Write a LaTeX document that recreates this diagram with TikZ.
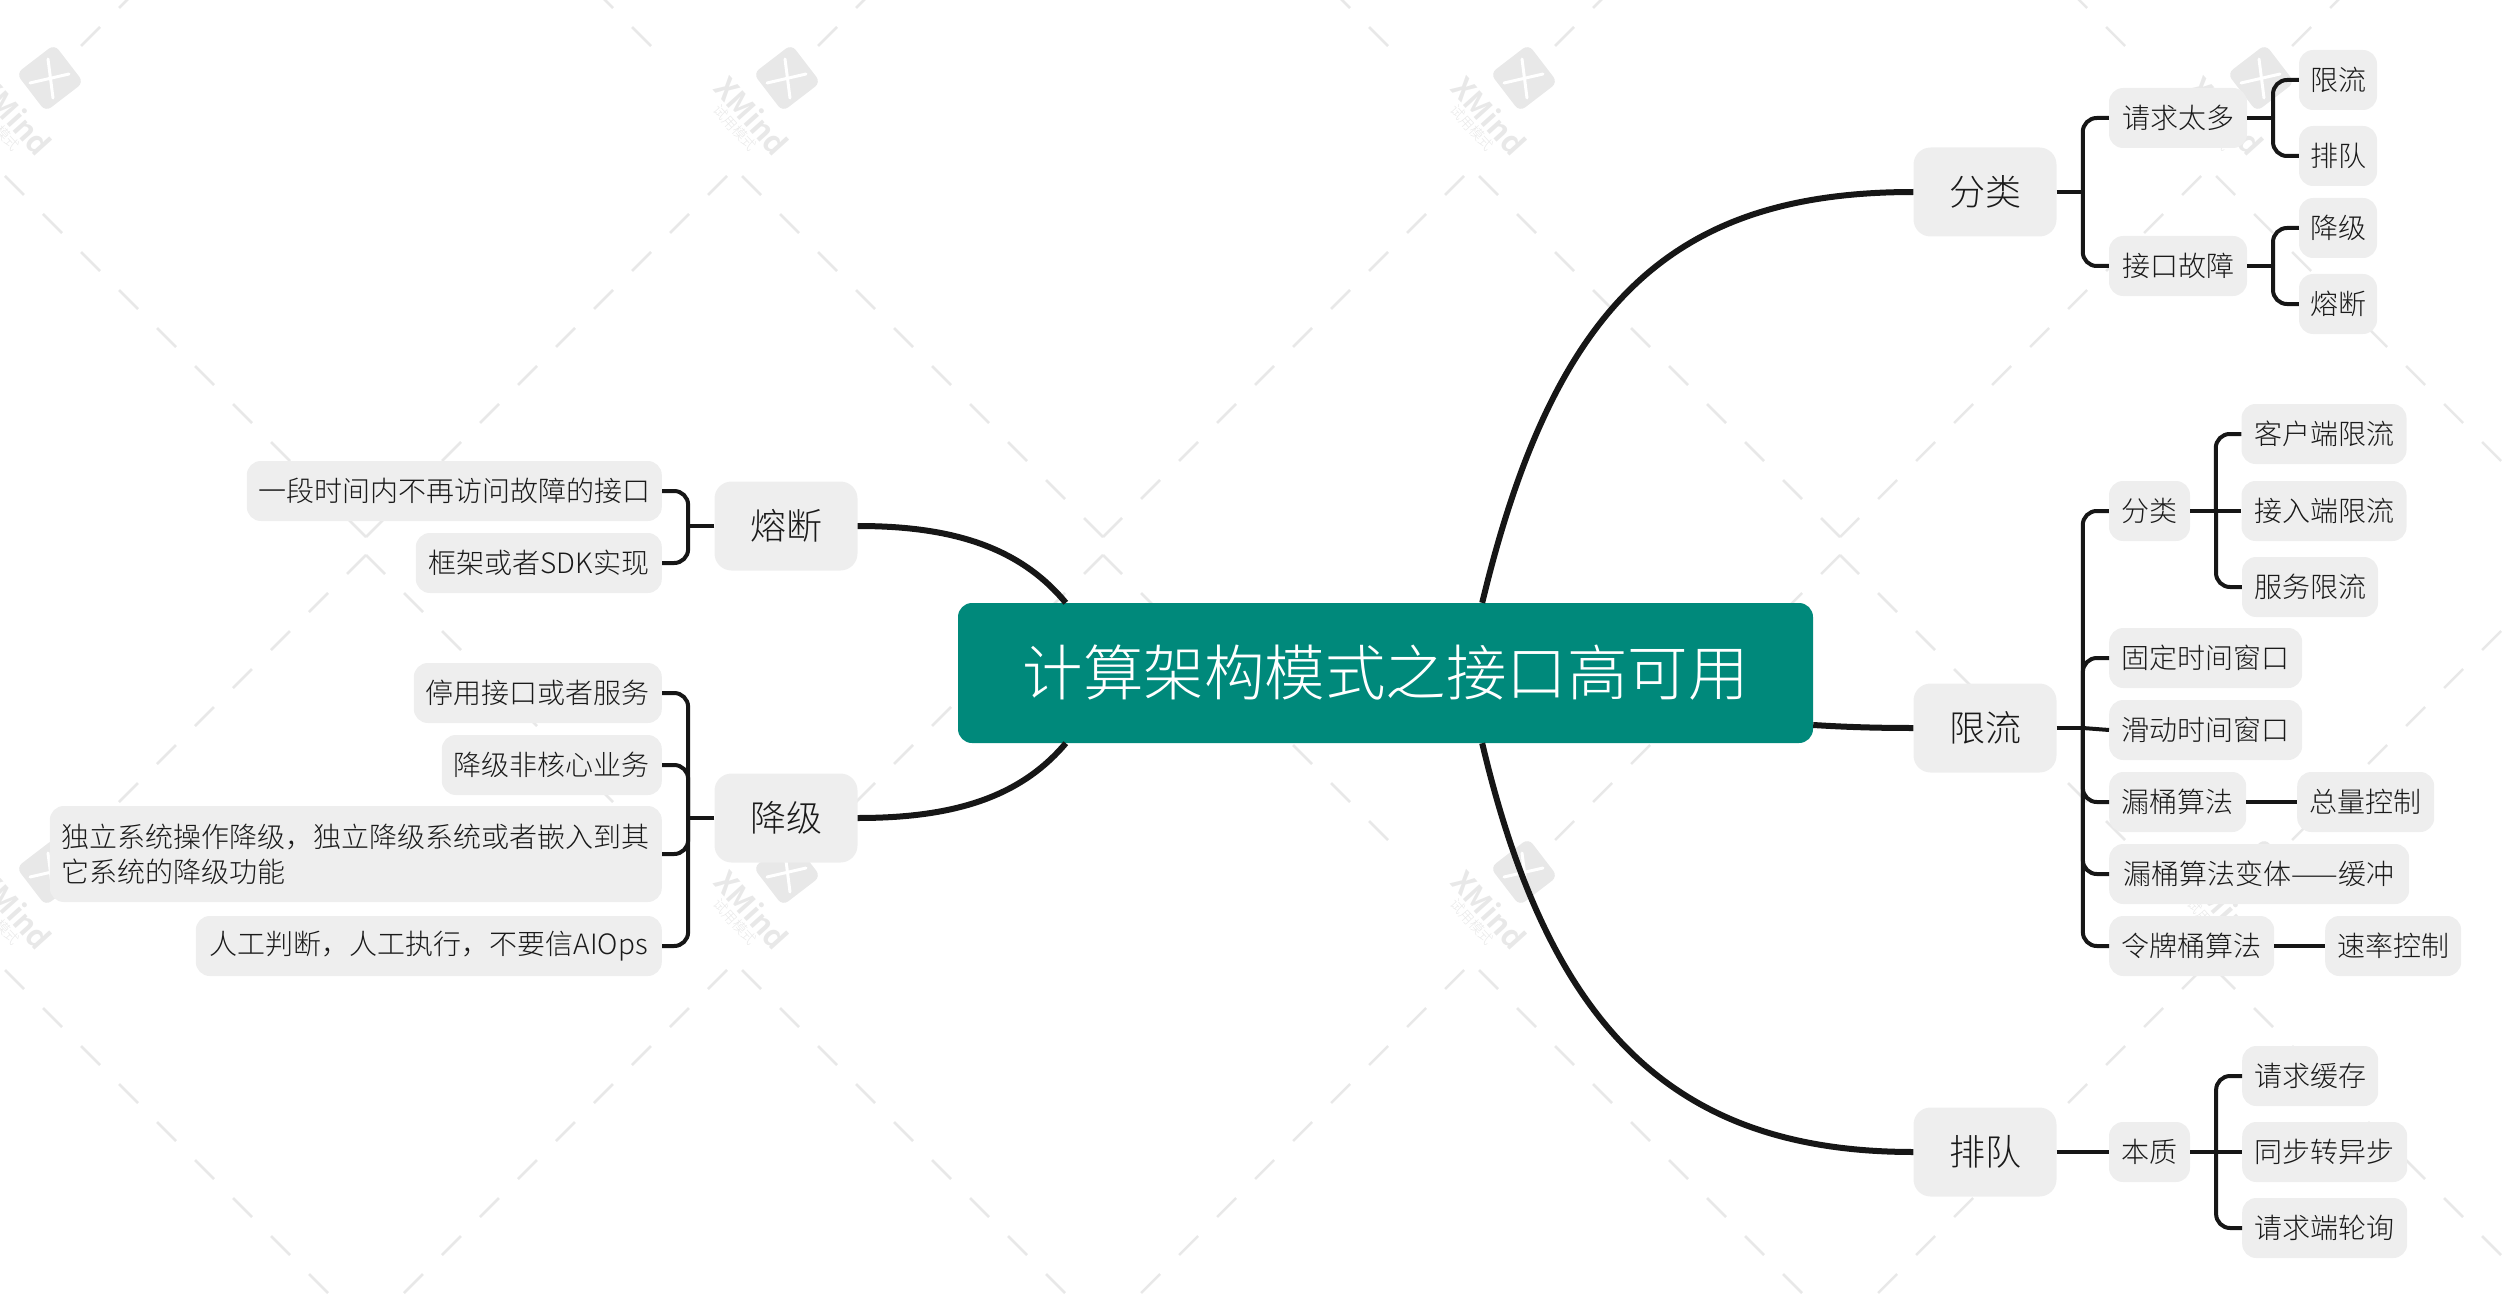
\documentclass[tikz,border=0pt]{standalone}
\usepackage{fontspec}
\setmainfont{Noto Sans CJK SC Light}
\usetikzlibrary{calc}
\definecolor{rootc}{HTML}{00897B}
\definecolor{boxc}{HTML}{EEEEEE}
\definecolor{linec}{HTML}{161616}
\definecolor{wm}{HTML}{E8E8E8}
\definecolor{txtc}{HTML}{1A1A1A}
\tikzset{
  rootbox/.style={fill=rootc,rounded corners=14pt,minimum width=855pt,minimum height=140pt,inner sep=0pt,text=white,font=\fontsize{60.5}{70}\selectfont},
  mainbox/.style={fill=boxc,rounded corners=17pt,minimum width=143pt,minimum height=89pt,inner sep=0pt,text=txtc,font=\fontsize{36}{44}\selectfont},
  subbox/.style={fill=boxc,rounded corners=14pt,minimum height=60pt,inner sep=0pt,text=txtc,font=\fontsize{28}{36}\selectfont},
  curve/.style={draw=linec,line width=6pt},
  conn/.style={draw=linec,line width=4pt,rounded corners=14pt},
  dashline/.style={draw=wm,line width=2.5pt},
}
\begin{document}
\begin{tikzpicture}[x=1pt,y=-1pt]
\useasboundingbox (0,0) rectangle (2512,1308);
% watermark
\foreach \k in {0,1,2,3}{
  \foreach \m in {-1,0,1}{
    \pgfmathsetmacro{\cx}{366+737*\k}
    \pgfmathsetmacro{\cy}{546+794*\m}
    \foreach \t in {0,38,...,342}{
      \draw[dashline] (\cx+\t,\cy-9-\t) -- (\cx+\t+19,\cy-9-\t-19);
      \draw[dashline] (\cx-\t,\cy-9-\t) -- (\cx-\t-19,\cy-9-\t-19);
    }
    \foreach \t in {0,38,...,266}{
      \draw[dashline] (\cx+\t,\cy+9+\t) -- (\cx+\t+19,\cy+9+\t+19);
      \draw[dashline] (\cx-\t,\cy+9+\t) -- (\cx-\t-19,\cy+9+\t+19);
    }
  }
}
\foreach \k in {0,1,2,3}{
  \foreach \m in {0,1}{
    \pgfmathsetmacro{\lx}{50+737*\k}
    \pgfmathsetmacro{\ly}{78+794*\m}
    \begin{scope}[shift={(\lx,\ly)}]
      \fill[wm,rounded corners=7pt,rotate=37.5] (-24,-24) rectangle (24,24);
      \draw[white,line width=3pt,line cap=round] (-2,-19) -- (3,20) (-20,5) -- (19,-4);
      \node[text=wm,rotate=-48,font=\fontsize{30}{30}\selectfont\bfseries,inner sep=0pt] (wx\k\m) at (-35,38) {XMind};
      \node[text=wm,rotate=-48,font=\fontsize{14}{14}\selectfont,inner sep=0pt] (wy\k\m) at (-52,50) {试用模式};
    \end{scope}
  }
}
% nodes
\node[rootbox] (root) at (1385.5,673) {计算架构模式之接口高可用};

\node[mainbox] (fl) at (1985,192) {分类};
\node[subbox,minimum width=138pt] (qq) at (2178,118) {请求太多};
\node[subbox,minimum width=138pt] (jk) at (2178,266) {接口故障};
\node[subbox,minimum width=78pt] (xl1) at (2338,80) {限流};
\node[subbox,minimum width=78pt] (pd1) at (2338,156) {排队};
\node[subbox,minimum width=78pt] (jj1) at (2338,228) {降级};
\node[subbox,minimum width=78pt] (rd1) at (2338,304) {熔断};

\node[mainbox] (xl) at (1985,728) {限流};
\node[subbox,minimum width=81pt] (fl2) at (2149.5,511) {分类};
\node[subbox,minimum width=165pt] (khd) at (2324,434) {客户端限流};
\node[subbox,minimum width=165pt] (jrd) at (2324,511) {接入端限流};
\node[subbox,minimum width=136pt] (fwx) at (2310,587) {服务限流};
\node[subbox,minimum width=193pt,anchor=west] (gd) at (2109,658) {固定时间窗口};
\node[subbox,minimum width=193pt,anchor=west] (hd) at (2109,730) {滑动时间窗口};
\node[subbox,minimum width=137pt,anchor=west] (lt) at (2109,802) {漏桶算法};
\node[subbox,minimum width=137pt,anchor=west] (zl) at (2297,802) {总量控制};
\node[subbox,minimum width=300pt,anchor=west] (ltb) at (2109,874) {漏桶算法变体——缓冲};
\node[subbox,minimum width=165pt,anchor=west] (lp) at (2109,946) {令牌桶算法};
\node[subbox,minimum width=136pt,anchor=west] (sl) at (2325,946) {速率控制};

\node[mainbox] (pd) at (1985,1152) {排队};
\node[subbox,minimum width=81pt] (bz) at (2149.5,1152) {本质};
\node[subbox,minimum width=136pt,anchor=west] (qh) at (2242,1076) {请求缓存};
\node[subbox,minimum width=165pt,anchor=west] (tb) at (2242,1152) {同步转异步};
\node[subbox,minimum width=165pt,anchor=west] (ql) at (2242,1228) {请求端轮询};

\node[mainbox] (rd) at (786,526) {熔断};
\node[subbox,minimum width=415pt,anchor=east] (yd) at (662,491) {一段时间内不再访问故障的接口};
\node[subbox,minimum width=246pt,anchor=east] (kj) at (662,563) {框架或者SDK实现};

\node[mainbox] (jj) at (786,818) {降级};
\node[subbox,minimum width=248pt,anchor=east] (ty) at (662,693) {停用接口或者服务};
\node[subbox,minimum width=220pt,anchor=east] (fh) at (662,765) {降级非核心业务};
\node[subbox,minimum width=612pt,minimum height=96pt,anchor=east,align=left,font=\fontsize{28}{35}\selectfont] (dl) at (662,854) {独立系统操作降级，独立降级系统或者嵌入到其\\它系统的降级功能};
\node[subbox,minimum width=466pt,anchor=east] (rg) at (662,946) {人工判断，人工执行，不要信AIOps};

% main curves
\draw[curve] (root.north east)+(-331,0) .. controls (1555,300) and (1675,192) .. (fl.west);
\draw[curve] (root.east)+(0,52) .. controls (1845,727) and (1875,728) .. (xl.west);
\draw[curve] (root.south east)+(-331,0) .. controls (1550,1030) and (1675,1152) .. (pd.west);
\draw[curve] (root.north west)+(108,0) .. controls (1018,545) and (948,526) .. (rd.east);
\draw[curve] (root.south west)+(108,0) .. controls (1018,800) and (948,818) .. (jj.east);
% right connectors: branch with rounded elbow, stub and straight runs unrounded
\foreach \a/\b in {fl/qq,fl/jk,qq/xl1,qq/pd1,jk/jj1,jk/rd1,xl/fl2,xl/gd,xl/lt,xl/ltb,xl/lp,fl2/khd,fl2/fwx,bz/qh,bz/ql}{
  \draw[conn] ($(\a.east)!.5!(\b.west|-\a.east)$) |- (\b.west);
}
\foreach \a/\b in {fl/qq,jk/jj1,qq/xl1,xl/hd,fl2/jrd,bz/tb}{
  \draw[conn] (\a.east) -- ($(\a.east)!.5!(\b.west|-\a.east)$);
}
\foreach \a/\b in {xl/hd,fl2/jrd,bz/tb}{
  \draw[conn] ($(\a.east)!.5!(\b.west|-\a.east)$ |- \b.west) -- (\b.west);
}
\foreach \a/\b in {lt/zl,lp/sl,pd/bz}{
  \draw[conn] (\a.east) -- (\b.west);
}
% left connectors
\foreach \a/\b in {rd/yd,rd/kj,jj/ty,jj/fh,jj/dl,jj/rg}{
  \draw[conn] ($(\a.west)!.5!(\b.east|-\a.west)$) |- (\b.east);
}
\foreach \a/\b in {rd/yd,jj/ty}{
  \draw[conn] (\a.west) -- ($(\a.west)!.5!(\b.east|-\a.west)$);
}
\end{tikzpicture}
\end{document}
